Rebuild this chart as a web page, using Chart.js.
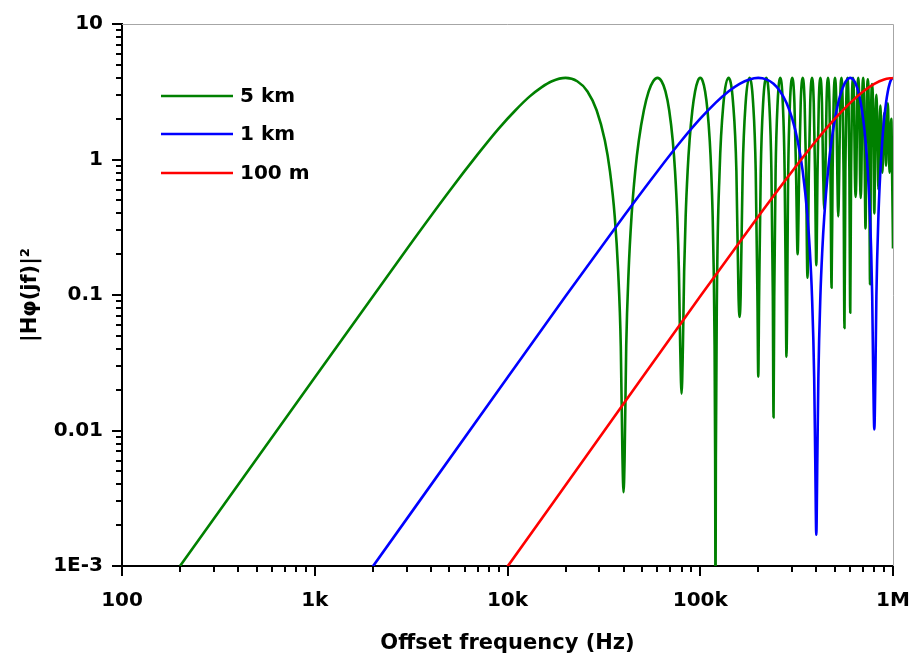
<!DOCTYPE html>
<html>
<head>
<meta charset="utf-8">
<script src="https://cdn.jsdelivr.net/npm/chart.js@4.4.1/dist/chart.umd.min.js"></script>
<style>
  body { margin: 0; background: #fff; }
  #wrap { width: 915px; height: 666px; }
</style>
</head>
<body>
<div id="wrap"><canvas id="chart" width="915" height="666"></canvas></div>
<script>
const seriesLabels = ['5 km', '1 km', '100 m'];
const seriesColors = ['#008000', '#0000ff', '#ff0000'];
const xTickLabels = ['100', '1k', '10k', '100k', '1M'];
const yTickLabels = ['1E-3', '0.01', '0.1', '1', '10'];

// [offset frequency (Hz), |H(jf)|^2]
const km5 = [
  [200, 0.001], [1000, 0.0246], [3000, 0.218], [5000, 0.586], [7000, 1.09], [9000, 1.69],
  [11000, 2.31], [13000, 2.91], [15000, 3.41], [17000, 3.78], [20000, 4.0], [23000, 3.78],
  [26000, 3.18], [29000, 2.31], [32000, 1.38], [34000, 0.82], [36000, 0.38], [37500, 0.15],
  [38700, 0.042], [39500, 0.0062], [40000, 0.0035],
  [40500, 0.0062], [41300, 0.042], [42500, 0.15], [44000, 0.38], [46000, 0.82], [48000, 1.38],
  [51000, 2.31], [54000, 3.18], [57000, 3.78], [60000, 4.0], [63000, 3.78], [66000, 3.18],
  [69000, 2.31], [72000, 1.38], [74000, 0.82], [76000, 0.38], [77500, 0.15], [78700, 0.042],
  [80000, 0.0187],
  [81300, 0.042], [82500, 0.15], [84000, 0.38], [86000, 0.82], [88000, 1.38], [91000, 2.31],
  [94000, 3.18], [97000, 3.78], [100000, 4.0], [103000, 3.78], [106000, 3.18], [109000, 2.31],
  [112000, 1.38], [114000, 0.82], [116000, 0.38], [117500, 0.15], [118700, 0.042],
  [119500, 0.0062], [120000, 0.0005],
  [120500, 0.0062], [122000, 0.098], [126000, 0.82], [132000, 2.62], [140000, 4.0],
  [148000, 2.62], [154000, 0.82], [158000, 0.098], [160000, 0.069],
  [162000, 0.098], [166000, 0.82], [172000, 2.62], [180000, 4.0], [188000, 2.62],
  [194000, 0.82], [198000, 0.098], [200000, 0.025],
  [202000, 0.098], [206000, 0.82], [212000, 2.62], [220000, 4.0], [228000, 2.62],
  [234000, 0.82], [238000, 0.098], [240000, 0.0125],
  [242000, 0.098], [246000, 0.82], [252000, 2.62], [260000, 4.0], [268000, 2.62],
  [274000, 0.82], [278000, 0.098], [280000, 0.035],
  [286000, 0.82], [292000, 2.62], [300000, 4.0], [308000, 2.62], [314000, 0.82], [320000, 0.2],
  [326000, 0.82], [332000, 2.62], [340000, 4.0], [348000, 2.62], [354000, 0.82], [360000, 0.134],
  [366000, 0.82], [372000, 2.62], [380000, 4.0], [388000, 2.62], [394000, 0.82], [400000, 0.166],
  [406000, 0.82], [412000, 2.62], [420000, 4.0], [428000, 2.62], [434000, 0.82], [440000, 0.43],
  [446000, 0.82], [452000, 2.62], [460000, 4.0], [468000, 2.62], [474000, 0.82], [480000, 0.113],
  [486000, 0.82], [492000, 2.62], [500000, 4.0], [508000, 2.62], [514000, 0.82], [520000, 0.38],
  [526000, 0.82], [532000, 2.62], [540000, 4.0], [548000, 2.62], [554000, 0.82], [560000, 0.057],
  [566000, 0.82], [572000, 2.62], [580000, 4.0], [588000, 2.62], [594000, 0.82], [600000, 0.074],
  [606000, 0.82], [612000, 2.62], [620000, 4.0], [628000, 2.62], [634000, 0.82], [640000, 0.53],
  [646000, 0.82], [652000, 2.62], [660000, 4.0], [668000, 2.62], [674000, 0.82], [680000, 0.52],
  [686000, 0.82], [692000, 2.62], [700000, 4.0], [708000, 2.62], [714000, 0.82], [720000, 0.31],
  [726000, 0.82], [732000, 2.62], [740000, 3.9], [748000, 2.62], [754000, 0.82], [760000, 0.12],
  [770000, 2.2], [780000, 3.6], [790000, 2.0], [800000, 0.4],
  [810000, 1.8], [820000, 3.0], [830000, 1.6], [840000, 0.6],
  [850000, 1.5], [860000, 2.5], [870000, 1.4], [880000, 0.8],
  [890000, 1.3], [900000, 2.2], [910000, 1.5], [920000, 0.9],
  [930000, 1.6], [940000, 2.6], [950000, 1.5], [960000, 0.8],
  [970000, 1.4], [980000, 2.0], [990000, 0.75], [1000000, 0.22]
];

const km1 = [
  [2000, 0.00099], [10000, 0.0246], [20000, 0.098], [40000, 0.38], [60000, 0.82], [80000, 1.38],
  [100000, 2.0], [120000, 2.62], [140000, 3.18], [160000, 3.62], [180000, 3.9], [200000, 4.0],
  [220000, 3.9], [240000, 3.62], [260000, 3.18], [280000, 2.62], [300000, 2.0], [320000, 1.38],
  [340000, 0.82], [360000, 0.38], [370000, 0.217], [380000, 0.098], [390000, 0.0246],
  [395000, 0.0062], [400000, 0.0017], [405000, 0.0062], [410000, 0.0246], [420000, 0.098],
  [430000, 0.217], [440000, 0.38], [460000, 0.82], [480000, 1.38], [500000, 2.0], [520000, 2.62],
  [540000, 3.18], [560000, 3.62], [580000, 3.9], [600000, 4.0], [620000, 3.9], [640000, 3.62],
  [660000, 3.18], [680000, 2.62], [700000, 2.0], [720000, 1.38], [740000, 0.82], [760000, 0.38],
  [770000, 0.217], [780000, 0.098], [790000, 0.0246], [800000, 0.0102], [810000, 0.0246],
  [820000, 0.098], [840000, 0.38], [860000, 0.82], [880000, 1.38], [900000, 2.0], [920000, 2.62],
  [940000, 3.18], [960000, 3.62], [980000, 3.9], [1000000, 4.0]
];

const m100 = [
  [10000, 0.00099], [50000, 0.0246], [100000, 0.098], [200000, 0.38], [300000, 0.82],
  [400000, 1.38], [500000, 2.0], [600000, 2.62], [700000, 3.18], [800000, 3.62],
  [900000, 3.9], [1000000, 4.0]
];

const FONT = 'DejaVu Sans';

function isDecade(v) {
  const l = Math.log10(v);
  return Math.abs(l - Math.round(l)) < 1e-6;
}

function logTicks(lo, hi) {
  const out = [];
  for (let e = lo; e < hi; e++) {
    for (let m = 1; m < 10; m++) out.push({ value: m * Math.pow(10, e) });
  }
  out.push({ value: Math.pow(10, hi) });
  return out;
}

// outer frame, tick marks and the legend inside the plot
const decorations = {
  id: 'decorations',
  beforeDatasetsDraw(chart) {
    const { ctx, chartArea: a } = chart;
    const xs = chart.scales.x, ys = chart.scales.y;
    ctx.save();
    ctx.strokeStyle = '#a6a6a6';
    ctx.lineWidth = 1;
    ctx.beginPath();
    ctx.moveTo(a.left, a.top + 0.5);
    ctx.lineTo(a.right + 0.5, a.top + 0.5);
    ctx.lineTo(a.right + 0.5, a.bottom);
    ctx.stroke();

    ctx.strokeStyle = '#000';
    ctx.lineWidth = 2;
    xs.ticks.forEach(t => {
      const px = Math.round(xs.getPixelForValue(t.value));
      const len = isDecade(t.value) ? 10 : 6;
      ctx.beginPath();
      ctx.moveTo(px, a.bottom);
      ctx.lineTo(px, a.bottom + len);
      ctx.stroke();
    });
    ys.ticks.forEach(t => {
      const py = Math.round(ys.getPixelForValue(t.value));
      const len = isDecade(t.value) ? 10 : 6;
      ctx.beginPath();
      ctx.moveTo(a.left, py);
      ctx.lineTo(a.left - len, py);
      ctx.stroke();
    });
    ctx.restore();
  },
  afterDatasetsDraw(chart) {
    const { ctx, chartArea: a } = chart;
    const rows = [72, 110, 149];
    ctx.save();
    chart.data.datasets.forEach((ds, i) => {
      const y = a.top + rows[i];
      ctx.strokeStyle = ds.borderColor;
      ctx.lineWidth = 2.6;
      ctx.beginPath();
      ctx.moveTo(a.left + 39, y);
      ctx.lineTo(a.left + 111, y);
      ctx.stroke();
      ctx.fillStyle = '#000';
      ctx.font = 'bold 20px "' + FONT + '"';
      ctx.textBaseline = 'middle';
      ctx.fillText(ds.label, a.left + 118, y + 1);
    });
    ctx.restore();
  }
};

const toXY = arr => arr.map(p => ({ x: p[0], y: p[1] }));
const seriesData = [km5, km1, m100];

new Chart(document.getElementById('chart'), {
  type: 'line',
  data: {
    datasets: seriesData.map((d, i) => ({
      label: seriesLabels[i],
      data: toXY(d),
      borderColor: seriesColors[i],
      borderWidth: 2.6,
      borderJoinStyle: 'round',
      pointRadius: 0,
      cubicInterpolationMode: 'monotone',
      order: 3 - i
    }))
  },
  options: {
    responsive: false,
    animation: false,
    layout: { padding: { top: 24, right: 22, left: 0, bottom: 0 } },
    plugins: {
      legend: { display: false },
      tooltip: { enabled: false }
    },
    scales: {
      x: {
        type: 'logarithmic',
        min: 100,
        max: 1e6,
        afterBuildTicks: s => { s.ticks = logTicks(2, 6); },
        afterFit: s => { s.height = 100; s.paddingLeft = 0; s.paddingRight = 0; },
        grid: { drawOnChartArea: false, drawTicks: true, tickLength: 10, color: 'rgba(0,0,0,0)' },
        border: { display: true, color: '#000', width: 2 },
        ticks: {
          autoSkip: false,
          maxRotation: 0,
          padding: 13,
          color: '#000',
          font: { family: FONT, weight: 'bold', size: 20 },
          callback: v => isDecade(v) ? xTickLabels[Math.round(Math.log10(v)) - 2] : ''
        },
        title: {
          display: true,
          text: 'Offset frequency (Hz)',
          color: '#000',
          font: { family: FONT, weight: 'bold', size: 21 },
          padding: { top: 0, bottom: 10 }
        }
      },
      y: {
        type: 'logarithmic',
        min: 0.001,
        max: 10,
        afterBuildTicks: s => { s.ticks = logTicks(-3, 1); },
        afterFit: s => { s.width = 122; s.paddingTop = 0; s.paddingBottom = 0; },
        grid: { drawOnChartArea: false, drawTicks: true, tickLength: 10, color: 'rgba(0,0,0,0)' },
        border: { display: true, color: '#000', width: 2 },
        ticks: {
          autoSkip: false,
          padding: 9,
          color: '#000',
          font: { family: FONT, weight: 'bold', size: 20 },
          callback: v => isDecade(v) ? yTickLabels[Math.round(Math.log10(v)) + 3] : ''
        },
        title: {
          display: true,
          text: '|Hφ(jf)|²',
          color: '#000',
          font: { family: FONT, weight: 'bold', size: 21 },
          padding: { top: 18, bottom: 0 }
        }
      }
    }
  },
  plugins: [decorations]
});
</script>
</body>
</html>
